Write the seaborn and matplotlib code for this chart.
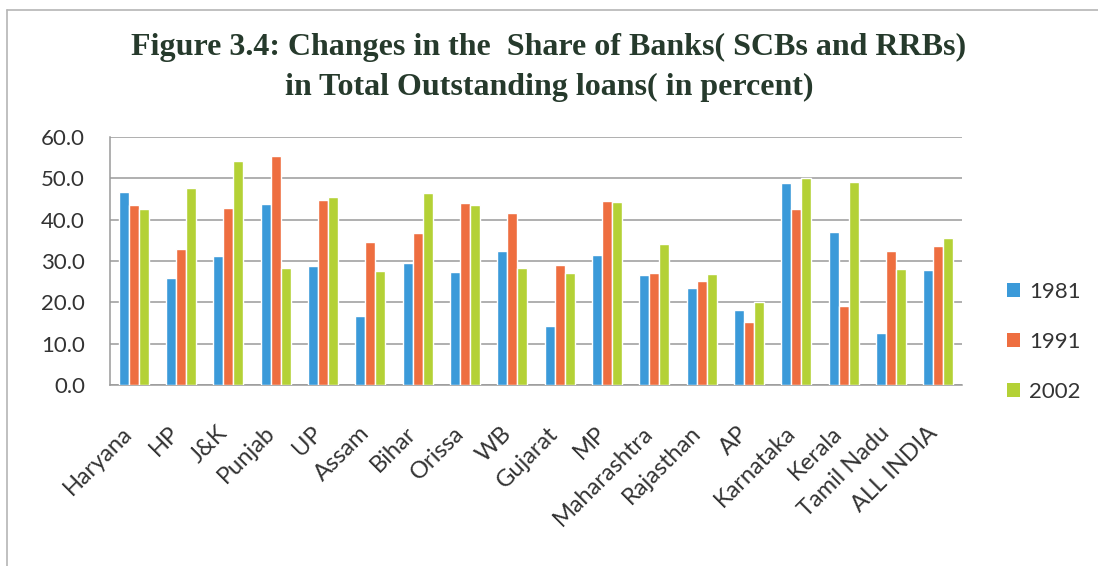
import matplotlib
matplotlib.use("Agg")
import matplotlib.pyplot as plt
from matplotlib.lines import Line2D
from matplotlib.patches import Patch
from matplotlib.transforms import ScaledTranslation
import seaborn as sns
import pandas as pd

states = ["Haryana", "HP", "J&K", "Punjab", "UP", "Assam", "Bihar", "Orissa", "WB",
          "Gujarat", "MP", "Maharashtra", "Rajasthan", "AP", "Karnataka", "Kerala",
          "Tamil Nadu", "ALL INDIA"]
share_1981 = [46.6, 25.8, 31.1, 43.8, 28.9, 16.7, 29.5, 27.4, 32.3,
              14.2, 31.4, 26.6, 23.5, 18.1, 48.8, 37.0, 12.6, 27.8]
share_1991 = [43.5, 32.9, 42.9, 55.4, 44.8, 34.5, 36.8, 44.1, 41.5,
              29.1, 44.4, 27.1, 25.2, 15.3, 42.7, 19.0, 32.4, 33.7]
share_2002 = [42.6, 47.6, 54.3, 28.3, 45.4, 27.7, 46.4, 43.6, 28.4,
              27.1, 44.2, 34.0, 26.9, 20.0, 50.2, 49.1, 28.0, 35.5]
years = ["1981", "1991", "2002"]
colors = ["#3b9ad9", "#ee6e40", "#b4d136"]

df = pd.DataFrame({
    "state": states * 3,
    "year": [y for y in years for _ in states],
    "share": share_1981 + share_1991 + share_2002,
})

sns.set_theme(style="white")
plt.rcParams["font.family"] = ["Lato", "DejaVu Sans"]

W, H = 1098, 566
fig = plt.figure(figsize=(W / 100, H / 100), dpi=100)
fig.patch.set_facecolor("white")
ax = fig.add_axes([110 / W, 1 - 385 / H, (962 - 110) / W, (385 - 137) / H])

sns.barplot(data=df, x="state", y="share", hue="year", order=states,
            hue_order=years, palette=colors, width=0.64, gap=0,
            saturation=1, legend=False, ax=ax, zorder=3)

ax.set_ylim(0, 60)
ax.set_yticks(range(0, 61, 10))
ax.set_yticklabels([f"{v:.1f}" for v in range(0, 61, 10)])
ax.set_xlim(-0.5, len(states) - 0.5)
ax.set_xlabel("")
ax.set_ylabel("")
ax.yaxis.grid(True, color="#9a9a9a", linewidth=1.1, zorder=0)
ax.set_axisbelow(True)
for side in ["top", "right"]:
    ax.spines[side].set_visible(False)
for side in ["left", "bottom"]:
    ax.spines[side].set_color("#9a9a9a")
    ax.spines[side].set_linewidth(1.1)

ax.tick_params(axis="y", length=0, pad=18, labelsize=16, labelcolor="#333333")
ax.tick_params(axis="x", length=0, pad=27, labelsize=17, labelcolor="#333333")
shift = ScaledTranslation(-12 / 100, 0, fig.dpi_scale_trans)
for lbl in ax.get_xticklabels():
    lbl.set_rotation(45)
    lbl.set_ha("right")
    lbl.set_va("top")
    lbl.set_rotation_mode("anchor")
    lbl.set_transform(lbl.get_transform() + shift)

title_font = dict(ha="center", va="center", fontsize=23, fontweight="bold",
                  family=["Liberation Serif", "DejaVu Serif"], color="#263a2c")
fig.text(0.5, 1 - 47 / H,
         "Figure 3.4: Changes in the  Share of Banks( SCBs and RRBs)", **title_font)
fig.text(0.5, 1 - 87 / H,
         "in Total Outstanding loans( in percent)", **title_font)

handles = [Patch(facecolor=c, edgecolor="none") for c in colors]
fig.legend(handles, years, loc="center left",
           bbox_to_anchor=(987 / W, 1 - 342 / H), frameon=False,
           fontsize=16, labelcolor="#333333", handlelength=0.6,
           handleheight=0.6, handletextpad=0.4, labelspacing=1.35)

# outer chart frame
fig.add_artist(Line2D([7 / W, 7 / W], [0, 1 - 10 / H], transform=fig.transFigure,
                      color="#b5b5b5", linewidth=1.2))
fig.add_artist(Line2D([7 / W, 1], [1 - 10 / H, 1 - 10 / H], transform=fig.transFigure,
                      color="#b5b5b5", linewidth=1.2))

fig.savefig("out.png", dpi=100, facecolor="white")
